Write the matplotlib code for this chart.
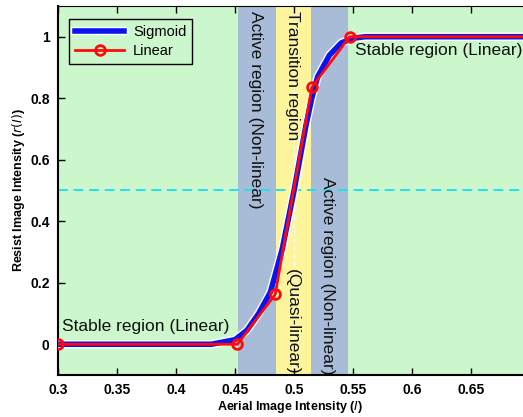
import matplotlib.pyplot as plt
import matplotlib.patheffects as pe

# sigmoid resist response
sig_x = [0.30, 0.43, 0.45, 0.46, 0.47, 0.48, 0.49, 0.50, 0.51, 0.515, 0.52, 0.53, 0.54, 0.55, 0.56, 0.70]
sig_y = [0.00, 0.00, 0.015, 0.045, 0.10, 0.17, 0.31, 0.50, 0.71, 0.80, 0.87, 0.94, 0.98, 0.995, 1.00, 1.00]

# piecewise linear approximation
lin_x = [0.30, 0.452, 0.484, 0.515, 0.547, 0.70]
lin_y = [0.00, 0.00, 0.162, 0.835, 1.00, 1.00]
lin_mark = [0, 1, 2, 3, 4]

# region boundaries
x_lo, x_hi = 0.30, 0.694
act1 = (0.4525, 0.485)
trans = (0.485, 0.514)
act2 = (0.514, 0.546)

plt.rcParams['font.family'] = ['Liberation Sans', 'DejaVu Sans']

fig = plt.figure(figsize=(5.23, 4.17), dpi=100)
ax = fig.add_axes([0.111, 0.1007, 0.889, 0.885])

green = '#ccf7cc'
blue_bg = '#a8bcd8'
yellow = '#fdf59c'
ax.axvspan(x_lo, act1[0], color=green, lw=0, zorder=0)
ax.axvspan(act1[0], act1[1], color=blue_bg, lw=0, zorder=0)
ax.axvspan(trans[0], trans[1], color=yellow, lw=0, zorder=0)
ax.axvspan(act2[0], act2[1], color=blue_bg, lw=0, zorder=0)
ax.axvspan(act2[1], x_hi, color=green, lw=0, zorder=0)

ax.axhline(0.5, color='#22e0ee', ls=(0, (5, 3)), lw=1.4, zorder=1)
ax.axvline(0.5, color='white', ls=(0, (4, 3)), lw=0.8, zorder=1)

ax.plot(sig_x, sig_y, color='#0a14f0', lw=4, zorder=3, label='Sigmoid',
        path_effects=[pe.Stroke(linewidth=6, foreground='white'), pe.Normal()])
ax.plot(lin_x, lin_y, color='#ff0a0a', lw=2, marker='o', markevery=lin_mark,
        ms=7, mfc='none', mew=2, zorder=4, label='Linear')

tf = dict(fontsize=12.5, color='#111111', zorder=5)
ax.text(0.3035, 0.058, 'Stable region (Linear)', ha='left', va='center', **tf)
ax.text(0.5515, 0.955, 'Stable region (Linear)', ha='left', va='center', **tf)
ax.text(0.4669, 1.085, 'Active region (Non-linear)', rotation=270,
        ha='center', va='top', **tf)
ax.text(0.4985, 1.085, 'Transition region', rotation=270,
        ha='center', va='top', **tf)
ax.text(0.4985, -0.098, '(Quasi-linear)', rotation=270,
        ha='center', va='bottom', **tf)
ax.text(0.528, 0.545, 'Active region (Non-linear)', rotation=270,
        ha='center', va='top', **tf)

ax.set_xlim(x_lo, x_hi)
ax.set_ylim(-0.1, 1.1)
ax.set_xticks([0.3, 0.35, 0.4, 0.45, 0.5, 0.55, 0.6, 0.65])
ax.set_xticklabels(['0.3', '0.35', '0.4', '0.45', '0.5', '0.55', '0.6', '0.65'])
ax.set_yticks([0, 0.2, 0.4, 0.6, 0.8, 1])
ax.set_yticklabels(['0', '0.2', '0.4', '0.6', '0.8', '1'])
ax.tick_params(direction='in', length=5, width=1, labelsize=10, top=True,
               pad=6)
for lab in ax.get_xticklabels() + ax.get_yticklabels():
    lab.set_fontweight('bold')
ax.spines['right'].set_visible(False)
ax.spines['left'].set_linewidth(1.5)
ax.spines['bottom'].set_linewidth(1.5)
ax.spines['top'].set_linewidth(0.8)

ax.set_xlabel(r'Aerial Image Intensity ($I$)', fontsize=9, fontweight='bold',
              labelpad=1)
ax.set_ylabel(r'Resist Image Intensity ($r(I)$)', fontsize=9,
              fontweight='bold', labelpad=2)

leg = ax.legend(loc='upper left', bbox_to_anchor=(0.008, 0.985), fontsize=10.5,
                frameon=True, fancybox=False, edgecolor='black',
                framealpha=1, borderpad=0.4, handlelength=3.4,
                labelspacing=0.35, handletextpad=0.6)
leg.get_frame().set_facecolor(green)
leg.get_frame().set_linewidth(1)

fig.savefig('out.png', dpi=100)
